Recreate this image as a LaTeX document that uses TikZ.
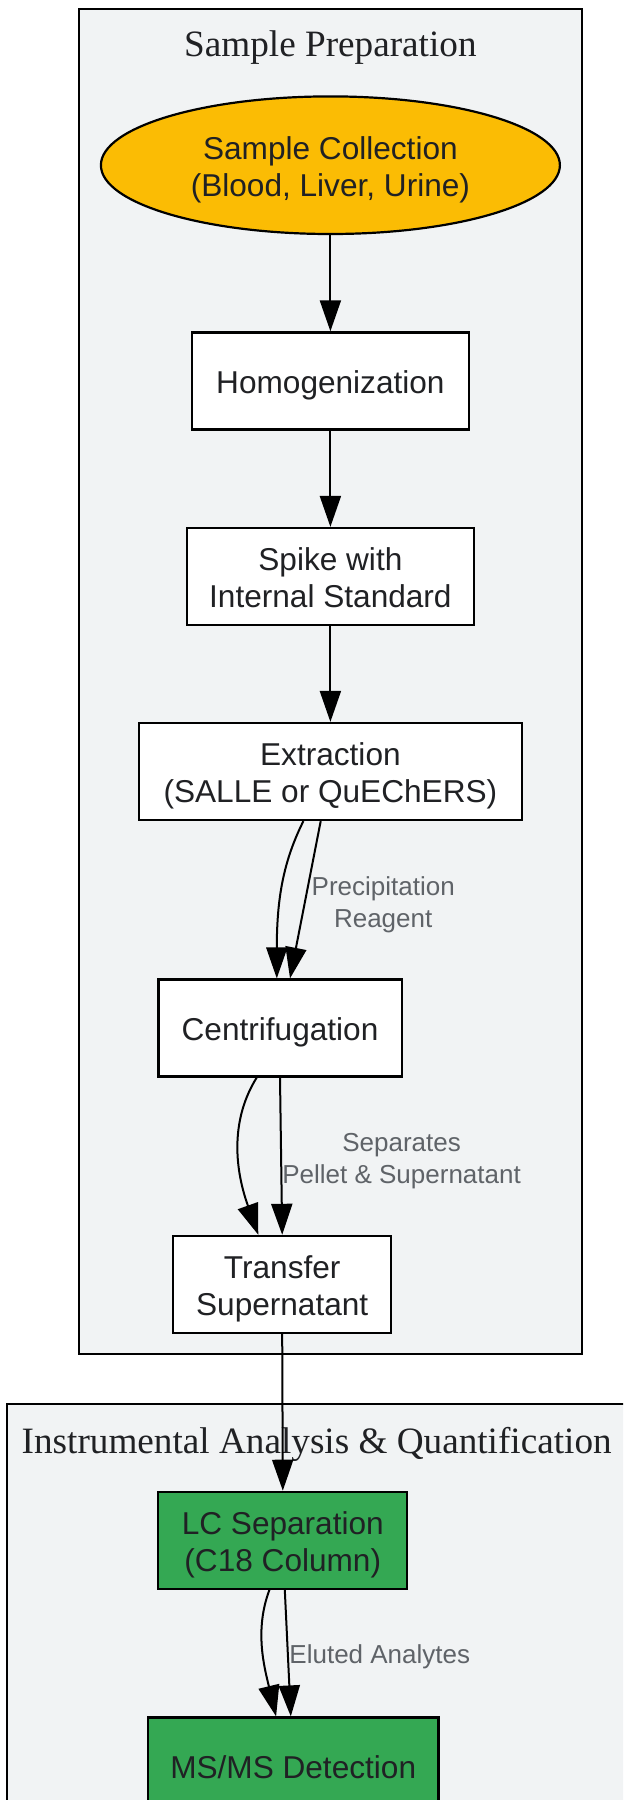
\documentclass[tikz,border=0pt]{standalone}
\usepackage{fontspec}
\setmainfont{Liberation Serif}
\setsansfont{Liberation Sans}
\usetikzlibrary{arrows.meta,shapes.geometric,positioning}
\definecolor{ClusterGray}{HTML}{F1F3F4}
\definecolor{SampleOrange}{HTML}{FBBC04}
\definecolor{LCGreen}{HTML}{34A853}
\definecolor{InkDark}{HTML}{202124}
\definecolor{LabelGray}{HTML}{5F6368}
\newcommand{\steptext}[1]{\rule{0pt}{16pt}#1\rule[-3.6pt]{0pt}{3.6pt}}
\tikzset{
    block/.style = {draw, rectangle, line width=1.1pt, fill=white, text=InkDark,
        minimum height=48.5pt, inner sep=0pt, align=center,
        font=\sffamily\fontsize{15.8}{18.4}\selectfont},
    startnode/.style = {block, ellipse, fill=SampleOrange,
        minimum width=229.5pt, minimum height=68.8pt},
    greenblock/.style = {block, fill=LCGreen},
    cluster/.style = {draw, line width=1pt, fill=ClusterGray},
    clustertitle/.style = {text=InkDark, font=\rmfamily\fontsize{18.6}{22}\selectfont},
    arrow/.style = {draw, line width=1pt, -{Triangle[length=15.5pt,width=10.5pt]}},
    edgelabel/.style = {text=LabelGray, align=center, inner sep=0pt,
        font=\sffamily\fontsize{13}{16}\selectfont}
}

\begin{document}
\begin{tikzpicture}[x=0.5pt, y=-0.5pt]
    \useasboundingbox (0,0) rectangle (623,1800);
    \fill[white] (0,0) rectangle (623,1800);
    \clip (0,0) rectangle (623,1800);

    % clusters
    \draw [cluster] (79.2,9.2) rectangle (581.7,1353.8);
    \node [clustertitle] (preptitle) at (330.4,48) {Sample Preparation};
    \draw [cluster] (6.9,1404.3) rectangle (660,1840);
    \node [clustertitle] (anatitle) at (316.7,1444.5) {Instrumental Analysis \& Quantification};

    % steps
    \node [startnode] (collect) at (330.4,165.2) {\steptext{Sample Collection\\(Blood, Liver, Urine)}};
    \node [block, minimum width=138.8pt] (homog) at (330.4,380.9) {\steptext{Homogenization}};
    \node [block, minimum width=143.4pt] (spike) at (330.4,576.5) {\steptext{Spike with\\Internal Standard}};
    \node [block, minimum width=191.6pt] (extract) at (330.4,771.5) {\steptext{Extraction\\(SALLE or QuEChERS)}};
    \node [block, minimum width=121.6pt] (centrif) at (280,1028) {\steptext{Centrifugation}};
    \node [block, minimum width=109pt] (transfer) at (282.2,1284.4) {\steptext{Transfer\\Supernatant}};
    \node [greenblock, minimum width=124.5pt] (lcsep) at (282.8,1540.3) {\steptext{LC Separation\\(C18 Column)}};
    \node [greenblock, minimum width=145.2pt] (msms) at (293.2,1766) {\steptext{MS/MS Detection}};

    % edge labels
    \node [edgelabel] (precip) at (383.2,904.6) {Precipitation\\Reagent};
    \node [edgelabel] (separates) at (401.6,1161) {Separates\\Pellet \& Supernatant};
    \node [edgelabel] (eluted) at (379.8,1657) {Eluted Analytes};

    % connectors
    \draw [arrow] (collect) -- (homog);
    \draw [arrow] (homog) -- (spike);
    \draw [arrow] (spike) -- (extract);
    \draw [arrow] ([xshift=-13.5pt]extract.south) .. controls +(-20,40) and +(0,-80) .. ([xshift=-1.6pt]centrif.north);
    \draw [arrow] ([xshift=-4.85pt]extract.south) -- ([xshift=5pt]centrif.north);
    \draw [arrow] ([xshift=-11.65pt]centrif.south) .. controls +(-25,40) and +(-25,-70) .. ([xshift=-11.95pt]transfer.north);
    \draw [arrow] (centrif.south) -- (transfer.north);
    \draw [arrow] (transfer.south) -- (lcsep.north);
    \draw [arrow] ([xshift=-6.7pt]lcsep.south) .. controls +(-15,40) and +(-12,-50) .. ([xshift=-8.55pt]msms.north);
    \draw [arrow] ([xshift=1pt]lcsep.south) -- ([xshift=-1.2pt]msms.north);
\end{tikzpicture}
\end{document}
